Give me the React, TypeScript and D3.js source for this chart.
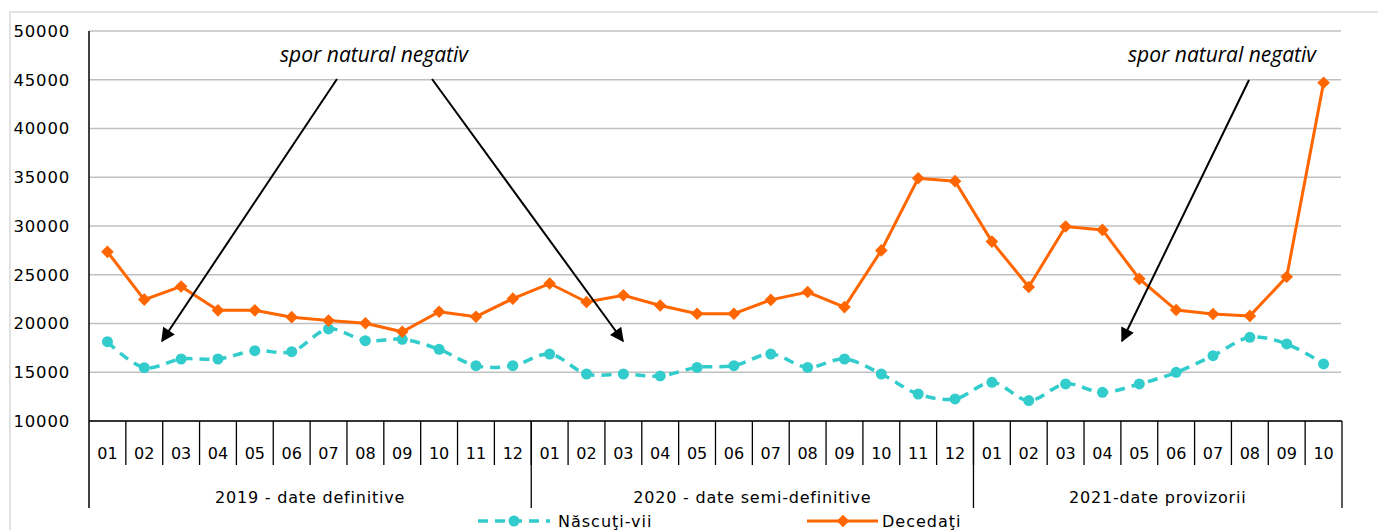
import React from "react";
import * as d3 from "d3";

const months2019 = ["01","02","03","04","05","06","07","08","09","10","11","12"];
const months2020 = ["01","02","03","04","05","06","07","08","09","10","11","12"];
const months2021 = ["01","02","03","04","05","06","07","08","09","10"];
const groupLabels = ["2019 - date definitive", "2020 - date semi-definitive", "2021-date provizorii"];
const yTicks = [10000, 15000, 20000, 25000, 30000, 35000, 40000, 45000, 50000];

const nascutiVii = [
  18130, 15470, 16360, 16360, 17210, 17110, 19440, 18240, 18380, 17350, 15670, 15670,
  16870, 14820, 14820, 14620, 15500, 15670, 16870, 15500, 16360, 14820, 12770, 12260,
  13970, 12090, 13800, 12940, 13800, 14990, 16700, 18580, 17900, 15850,
];
const decedati = [
  27350, 22450, 23800, 21350, 21350, 20650, 20300, 20020, 19150, 21200, 20700, 22550,
  24100, 22200, 22900, 21850, 21000, 21000, 22420, 23230, 21680, 27500, 34900, 34600,
  28400, 23750, 29950, 29600, 24580, 21380, 20970, 20780, 24800, 44700,
];
const seriesNames = ["Născuţi-vii", "Decedaţi"];
const annotation = "spor natural negativ";

const W = 1378, H = 530;
const left = 89, right = 1342, top = 31, bottom = 421;
const teal = "#33CCCC", orange = "#FF6600";

export default function App() {
  const groups = [months2019, months2020, months2021];
  const cats: { m: string; g: number }[] = [];
  groups.forEach((ms, g) => ms.forEach((m) => cats.push({ m, g })));
  const idx = cats.map((_, i) => i);
  const x = d3.scaleBand<number>().domain(idx).range([left, right]).padding(0);
  const y = d3.scaleLinear().domain([10000, 50000]).range([bottom, top]);
  const cx = (i: number) => (x(i) as number) + x.bandwidth() / 2;

  const tealLine = d3.line<number>().x((_, i) => cx(i)).y((d) => y(d)).curve(d3.curveCatmullRom.alpha(0.5));
  const orangeLine = d3.line<number>().x((_, i) => cx(i)).y((d) => y(d));

  const groupBounds: number[] = [];
  let acc = 0;
  groupBounds.push(x(0) as number);
  groups.forEach((ms) => { acc += ms.length; groupBounds.push(acc < cats.length ? (x(acc) as number) : right); });

  const diamond = (px: number, py: number, r = 6.3) => `M${px},${py - r}L${px + r},${py}L${px},${py + r}L${px - r},${py}Z`;

  const arrows = [
    { x1: 337, y1: 79, x2: 162, y2: 341 },
    { x1: 432, y1: 79, x2: 623, y2: 341 },
    { x1: 1249, y1: 80, x2: 1122, y2: 341 },
  ];

  const font = "'DejaVu Sans', sans-serif";

  return (
    <svg width={W} height={H} style={{ position: "absolute", left: 0, top: 0 }} xmlns="http://www.w3.org/2000/svg">
      <defs>
        <marker id="ah2" viewBox="0 0 10 10" refX="9" refY="5" markerWidth="16" markerHeight="14" markerUnits="userSpaceOnUse" orient="auto">
          <path d="M0,0L10,5L0,10Z" fill="#000" />
        </marker>
      </defs>
      <rect x={0} y={0} width={W} height={H} fill="#fff" />
      <rect x={10} y={12} width={W + 20} height={H + 20} fill="none" stroke="#D9D9D9" strokeWidth={1.5} />

      {yTicks.map((t) => (
        <line key={t} x1={left} x2={right - 1} y1={y(t)} y2={y(t)} stroke="#C0C0C0" strokeWidth={1.5} />
      ))}
      {yTicks.map((t) => (
        <text key={"l" + t} x={70} y={y(t)} dy="0.35em" textAnchor="end" fontFamily={font} fontSize={16.5} letterSpacing={0.8} fill="#000">
          {t}
        </text>
      ))}

      <line x1={left} x2={left} y1={top} y2={508} stroke="#000" strokeWidth={1.5} />
      <line x1={left} x2={right} y1={bottom} y2={bottom} stroke="#000" strokeWidth={1.5} />
      {idx.slice(1).map((i) => (
        <line key={"t" + i} x1={x(i) as number} x2={x(i) as number} y1={bottom} y2={465} stroke="#000" strokeWidth={1.3} />
      ))}
      {groupBounds.slice(1).map((b, i) => (
        <line key={"g" + i} x1={b} x2={b} y1={bottom} y2={508} stroke="#000" strokeWidth={1.3} />
      ))}
      {cats.map((c, i) => (
        <text key={"c" + i} x={cx(i)} y={453} dy="0.35em" textAnchor="middle" fontFamily={font} fontSize={16} fill="#000">
          {c.m}
        </text>
      ))}
      {groupLabels.map((g, i) => (
        <text key={"gl" + i} x={(groupBounds[i] + groupBounds[i + 1]) / 2} y={497} dy="0.35em" textAnchor="middle" fontFamily={font} fontSize={16} letterSpacing={0.8} fill="#000">
          {g}
        </text>
      ))}

      <path d={tealLine(nascutiVii) || ""} fill="none" stroke={teal} strokeWidth={3.5} strokeDasharray="10 7" />
      {nascutiVii.map((v, i) => (
        <circle key={"n" + i} cx={cx(i)} cy={y(v)} r={5.5} fill={teal} />
      ))}
      <path d={orangeLine(decedati) || ""} fill="none" stroke={orange} strokeWidth={3} />
      {decedati.map((v, i) => (
        <path key={"d" + i} d={diamond(cx(i), y(v))} fill={orange} />
      ))}

      {arrows.map((a, i) => (
        <line key={"a" + i} x1={a.x1} y1={a.y1} x2={a.x2} y2={a.y2} stroke="#000" strokeWidth={2} markerEnd="url(#ah2)" />
      ))}
      <text x={374} y={62} textAnchor="middle" fontFamily="'Open Sans', sans-serif" fontStyle="italic" fontSize={21} fill="#000">{annotation}</text>
      <text x={1222} y={62} textAnchor="middle" fontFamily="'Open Sans', sans-serif" fontStyle="italic" fontSize={21} fill="#000">{annotation}</text>

      <line x1={478} x2={550} y1={521} y2={521} stroke={teal} strokeWidth={3.5} strokeDasharray="10 7" />
      <circle cx={514} cy={521} r={5.5} fill={teal} />
      <text x={558} y={521} dy="0.35em" fontFamily={font} fontSize={16} letterSpacing={1} fill="#000">{seriesNames[0]}</text>
      <line x1={807} x2={878} y1={521} y2={521} stroke={orange} strokeWidth={3} />
      <path d={diamond(843, 521)} fill={orange} />
      <text x={882} y={521} dy="0.35em" fontFamily={font} fontSize={16} letterSpacing={1} fill="#000">{seriesNames[1]}</text>
    </svg>
  );
}
